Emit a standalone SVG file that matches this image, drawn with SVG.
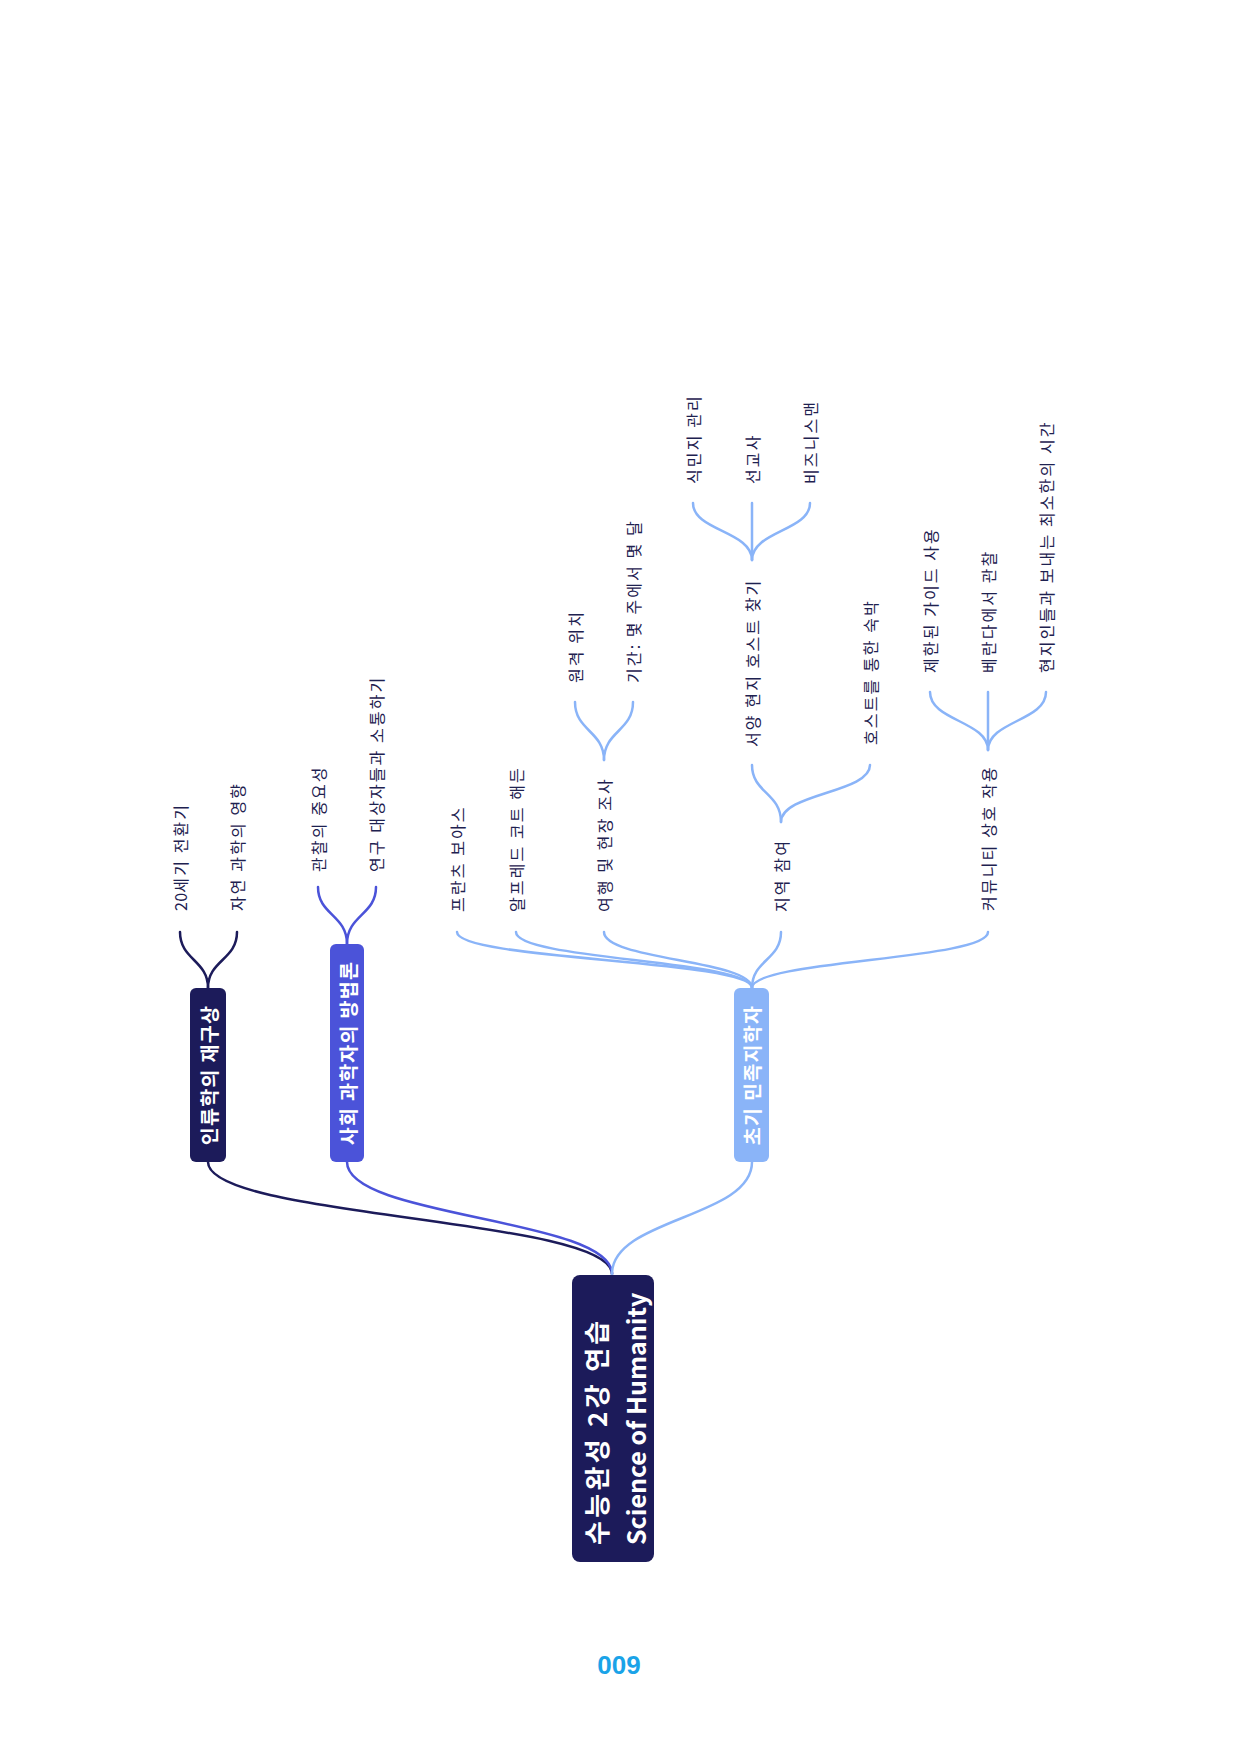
<svg xmlns="http://www.w3.org/2000/svg" width="1240" height="1754" viewBox="0 0 1240 1754">
<style>
.c{fill:none;stroke-width:2.5;stroke-linecap:round}
.navy{stroke:#1c1b5a}
.blue{stroke:#4b53d9}
.light{stroke:#8ab4f8}
.lbl{font-family:"Noto Sans CJK KR","Noto Sans",sans-serif;font-size:16px;letter-spacing:2.1px;fill:#1e2150;dominant-baseline:central}
.nt{font-family:"Noto Sans CJK KR","Noto Sans",sans-serif;font-size:19.5px;letter-spacing:1.3px;font-weight:bold;fill:#ffffff;dominant-baseline:central;text-anchor:middle}
.rt{font-family:"Noto Sans CJK KR","Noto Sans",sans-serif;font-weight:bold;fill:#ffffff;dominant-baseline:central}
</style>
<rect width="1240" height="1754" fill="#ffffff"/>
<g id="connectors">
<path class="c navy" d="M612,1274 C612,1218 208,1218 208,1162"/>
<path class="c blue" d="M612,1274 C612,1218 347,1218 347,1162"/>
<path class="c light" d="M612,1274 C612,1218 752,1218 752,1162"/>
<path class="c navy" d="M208,988 C208,960 180,960 180,932"/>
<path class="c navy" d="M208,988 C208,960 237,960 237,932"/>
<path class="c blue" d="M347,944 C347,915 318,915 318,887"/>
<path class="c blue" d="M347,944 C347,915 376,915 376,887"/>
<path class="c light" d="M752,988 C752,960 457,960 457,932"/>
<path class="c light" d="M752,988 C752,960 516,960 516,932"/>
<path class="c light" d="M752,988 C752,960 604,960 604,932"/>
<path class="c light" d="M752,988 C752,960 781,960 781,932"/>
<path class="c light" d="M752,988 C752,960 988,960 988,932"/>
<path class="c light" d="M604,760 C604,731 575,731 575,702"/>
<path class="c light" d="M604,760 C604,731 633,731 633,702"/>
<path class="c light" d="M781,822 C781,793 752,793 752,765"/>
<path class="c light" d="M781,822 C781,793 870,793 870,765"/>
<path class="c light" d="M752,560 C752,531 693,531 693,503"/>
<path class="c light" d="M752,560 L752,503"/>
<path class="c light" d="M752,560 C752,531 810,531 810,503"/>
<path class="c light" d="M988,750 C988,721 930,721 930,692"/>
<path class="c light" d="M988,750 L988,692"/>
<path class="c light" d="M988,750 C988,721 1046,721 1046,692"/>
</g>
<g id="root">
<rect x="572" y="1275" width="82" height="287" rx="8" fill="#1c1b5a"/>
<text class="rt" font-size="26" letter-spacing="3.3" transform="translate(595,1545) rotate(-90)">수능완성 2강 연습</text>
<text class="rt" font-size="25" transform="translate(635,1545) rotate(-90)">Science of Humanity</text>
</g>
<g id="n-anthro">
<rect x="190" y="988" width="36" height="174" rx="6" fill="#1c1b5a"/>
<text class="nt" transform="translate(208,1075) rotate(-90)">인류학의 재구상</text>
</g>
<g id="n-method">
<rect x="330" y="944" width="34" height="218" rx="6" fill="#4b53d9"/>
<text class="nt" transform="translate(347,1053) rotate(-90)">사회 과학자의 방법론</text>
</g>
<g id="n-early">
<rect x="734" y="988" width="35" height="174" rx="6" fill="#8ab4f8"/>
<text class="nt" transform="translate(751.5,1075) rotate(-90)">초기 민족지학자</text>
</g>
<g id="l-20c"><text class="lbl" transform="translate(180,911) rotate(-90)"><tspan letter-spacing="0.3">20</tspan>세기 전환기</text></g>
<g id="l-nature"><text class="lbl" transform="translate(237,911) rotate(-90)">자연 과학의 영향</text></g>
<g id="l-observe"><text class="lbl" transform="translate(318,872) rotate(-90)">관찰의 중요성</text></g>
<g id="l-comm"><text class="lbl" transform="translate(376,872) rotate(-90)">연구 대상자들과 소통하기</text></g>
<g id="l-boas"><text class="lbl" transform="translate(457,912) rotate(-90)">프란츠 보아스</text></g>
<g id="l-haddon"><text class="lbl" transform="translate(516,912) rotate(-90)">알프레드 코트 해든</text></g>
<g id="l-travel"><text class="lbl" transform="translate(604,912) rotate(-90)">여행 및 현장 조사</text></g>
<g id="l-local"><text class="lbl" transform="translate(781,912) rotate(-90)">지역 참여</text></g>
<g id="l-community"><text class="lbl" transform="translate(988,911) rotate(-90)">커뮤니티 상호 작용</text></g>
<g id="l-remote"><text class="lbl" transform="translate(575,683) rotate(-90)">원격 위치</text></g>
<g id="l-period"><text class="lbl" transform="translate(633,683) rotate(-90)">기간: 몇 주에서 몇 달</text></g>
<g id="l-host"><text class="lbl" transform="translate(752,747) rotate(-90)">서양 현지 호스트 찾기</text></g>
<g id="l-stay"><text class="lbl" transform="translate(870,745) rotate(-90)">호스트를 통한 숙박</text></g>
<g id="l-colonial"><text class="lbl" transform="translate(693,484) rotate(-90)">식민지 관리</text></g>
<g id="l-missionary"><text class="lbl" transform="translate(752,484) rotate(-90)">선교사</text></g>
<g id="l-business"><text class="lbl" transform="translate(810,484) rotate(-90)">비즈니스맨</text></g>
<g id="l-guide"><text class="lbl" transform="translate(930,673) rotate(-90)">제한된 가이드 사용</text></g>
<g id="l-veranda"><text class="lbl" transform="translate(988,673) rotate(-90)">베란다에서 관찰</text></g>
<g id="l-mintime"><text class="lbl" transform="translate(1046,673) rotate(-90)">현지인들과 보내는 최소한의 시간</text></g>
<text x="619" y="1674" text-anchor="middle" font-family="Liberation Sans, Arial, sans-serif" font-size="26" font-weight="bold" fill="#1aa3e8">009</text>
</svg>
